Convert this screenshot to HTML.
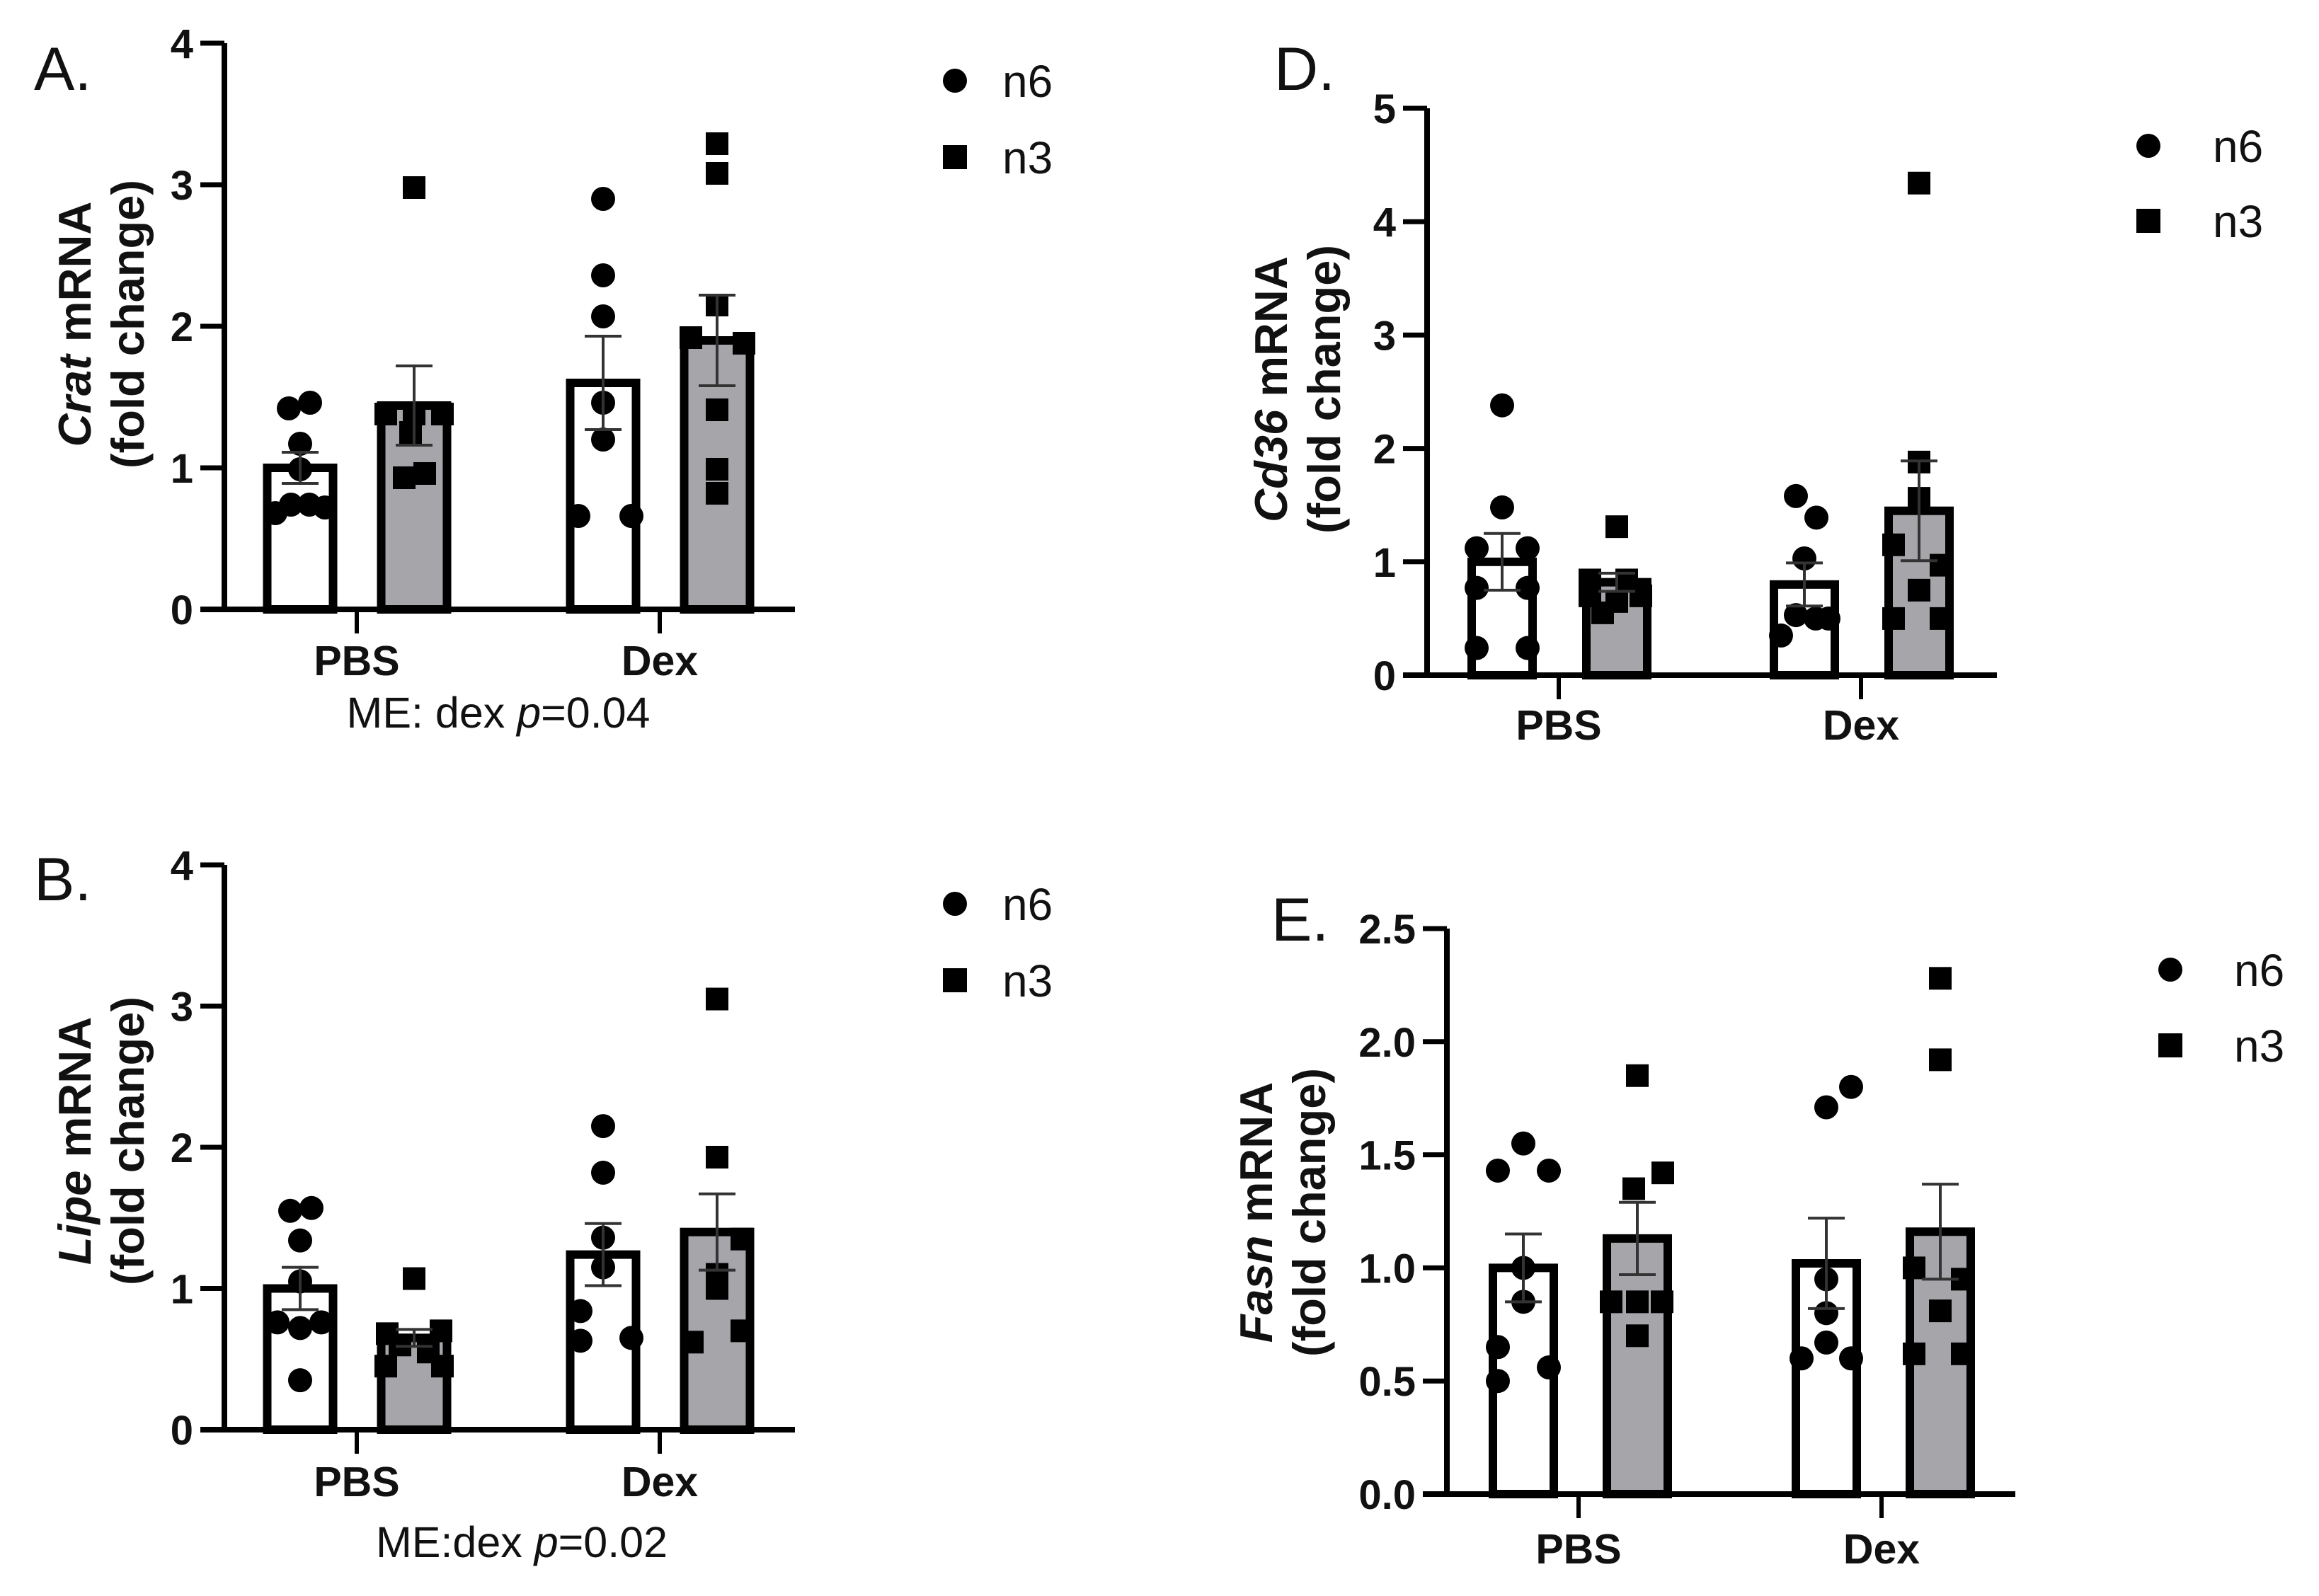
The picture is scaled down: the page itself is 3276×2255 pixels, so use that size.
<!DOCTYPE html>
<html><head><meta charset="utf-8"><style>
html,body{margin:0;padding:0;background:#fff}
svg{display:block}
text{font-family:"Liberation Sans",Arial,sans-serif}
</style></head>
<body>
<svg id="fig" width="3276" height="2255" viewBox="0 0 3276 2255" xmlns="http://www.w3.org/2000/svg"></svg>
<script>
// ---- data ----
const groups = ["PBS", "Dex"];
const series = ["n6", "n3"];
// Panel A: Crat
const crat_means = [1.0, 1.44, 1.6, 1.9];
const crat_sem = [0.11, 0.28, 0.33, 0.32];
const crat_pts_n6_pbs = [1.42, 1.46, 1.17, 0.99, 0.68, 0.74, 0.74, 0.72];
const crat_pts_n3_pbs = [2.98, 1.38, 1.38, 1.38, 1.25, 0.93, 0.96];
const crat_pts_n6_dex = [2.9, 2.36, 2.07, 1.46, 1.2, 0.66, 0.66];
const crat_pts_n3_dex = [3.29, 3.08, 2.15, 1.92, 1.88, 1.41, 0.99, 0.82];
// Panel B: Lipe
const lipe_means = [1.0, 0.65, 1.24, 1.4];
const lipe_sem = [0.15, 0.06, 0.22, 0.27];
const lipe_pts_n6_pbs = [1.55, 1.57, 1.34, 1.05, 0.76, 0.72, 0.76, 0.35];
const lipe_pts_n3_pbs = [1.07, 0.68, 0.7, 0.6, 0.55, 0.45, 0.45];
const lipe_pts_n6_dex = [2.15, 1.82, 1.36, 1.15, 0.84, 0.63, 0.65];
const lipe_pts_n3_dex = [3.05, 1.93, 1.35, 1.1, 1.0, 0.7, 0.62];
// Panel D: Cd36
const cd36_means = [1.0, 0.82, 0.8, 1.45];
const cd36_sem = [0.25, 0.08, 0.19, 0.44];
const cd36_pts_n6_pbs = [2.38, 1.48, 1.12, 1.12, 0.77, 0.77, 0.24, 0.24];
const cd36_pts_n3_pbs = [1.31, 0.84, 0.84, 0.7, 0.7, 0.65, 0.55];
const cd36_pts_n6_dex = [1.58, 1.39, 1.03, 0.53, 0.5, 0.5, 0.35];
const cd36_pts_n3_dex = [4.34, 1.88, 1.56, 1.15, 0.97, 0.75, 0.5, 0.5];
// Panel E: Fasn
const fasn_means = [1.0, 1.13, 1.02, 1.16];
const fasn_sem = [0.15, 0.16, 0.2, 0.21];
const fasn_pts_n6_pbs = [1.55, 1.43, 1.43, 1.0, 0.85, 0.65, 0.56, 0.5];
const fasn_pts_n3_pbs = [1.85, 1.42, 1.35, 0.85, 0.85, 0.85, 0.7];
const fasn_pts_n6_dex = [1.8, 1.71, 0.95, 0.8, 0.67, 0.6, 0.6];
const fasn_pts_n3_dex = [2.28, 1.92, 1.0, 0.95, 0.81, 0.62, 0.62];
const ticks_4 = [0, 1, 2, 3, 4];
const ticks_5 = [0, 1, 2, 3, 4, 5];
const ticks_e = [0, 0.5, 1.0, 1.5, 2.0, 2.5];
const tick_labels_e = ["0.0", "0.5", "1.0", "1.5", "2.0", "2.5"];

// ---- layout (styling only) ----
const jitA = [[-16,14,0,0,-35,-13,13,35],[0,-40,40,0,-5,-14,15],[0,0,0,0,0,-35,40],[0,0,0,-37,38,0,0,0]];
const jitB = [[-14,16,0,0,-32,0,30,0],[0,-38,38,-20,20,-40,40],[0,0,0,0,-32,-32,40],[0,0,35,0,0,35,-35]];
const jitD = [[0,0,-36,36,-36,36,-36,36],[0,-38,14,-38,34,0,-20],[-12,17,0,-12,16,34,-33],[0,0,0,-36,31,0,-36,31]];
const jitE = [[0,-36,36,0,0,-36,36,-36],[0,36,-5,-37,0,35,0],[35,0,0,0,0,-35,35],[0,0,-37,31,0,-37,31]];

const NS = "http://www.w3.org/2000/svg";
const svg = document.getElementById("fig");
function mk(tag, attrs, parent) {
  const e = document.createElementNS(NS, tag);
  for (const k in attrs) e.setAttribute(k, attrs[k]);
  (parent || svg).appendChild(e);
  return e;
}

function panel(cfg) {
  const g = mk("g", {});
  
  
  const yScale = v => cfg.y0 - (v - 0) / cfg.vmax * (cfg.y0 - cfg.yTop);
  const letter = mk("text", {x: cfg.letterX, y: cfg.letterY, "font-size": 86, fill: "#111"}, g);
  letter.textContent = cfg.letter;
  
  
  const yt = mk("text", {transform: `translate(${cfg.ylabX1},${cfg.ylabY}) rotate(-90)`, "text-anchor": "middle", "font-size": 65, "font-weight": "bold", fill: "#111"}, g);
  yt.setAttribute("xml:space", "preserve");
  yt.innerHTML = `<tspan font-style="italic">${cfg.gene}</tspan>${cfg.gap}mRNA`;
  
  
  const yt2 = mk("text", {transform: `translate(${cfg.ylabX2},${cfg.ylabY}) rotate(-90)`, "text-anchor": "middle", "font-size": 65, "font-weight": "bold", fill: "#111"}, g);
  yt2.textContent = "(fold change)";
  
  
  const order = [[0,0],[0,1],[1,0],[1,1]];
  order.forEach((gs, i) => {
    const cx = cfg.groupX[gs[0]] + cfg.offsets[gs[1]];
    const top = yScale(cfg.means[i]);
    const bw = cfg.barW;
    const b = mk("rect", {x: cx - bw/2, y: top, width: bw, height: cfg.y0 - top, fill: gs[1] ? "#a6a5aa" : "#fff", stroke: "#000", "stroke-width": 12}, g);
    
    
  });
  order.forEach((gs, i) => {
    const cx = cfg.groupX[gs[0]] + cfg.offsets[gs[1]];
    cfg.points[i].forEach((v, j) => {
      const px = cx + (cfg.jit[i][j] || 0);
      const py = yScale(v);
      let p;
      if (gs[1] === 0) p = mk("circle", {cx: px, cy: py, r: 17, fill: "#000"}, g);
      else p = mk("rect", {x: px - 16, y: py - 16, width: 32, height: 32, fill: "#000"}, g);
      
      
    });
  });
  order.forEach((gs, i) => {
    const cx = cfg.groupX[gs[0]] + cfg.offsets[gs[1]];
    const hi = yScale(cfg.means[i] + cfg.sem[i]);
    const lo = yScale(cfg.means[i] - cfg.sem[i]);
    const eb = mk("path", {d: `M${cx},${lo}V${hi}M${cx-26},${hi}H${cx+26}M${cx-26},${lo}H${cx+26}`, stroke: "#333", "stroke-width": 4, fill: "none"}, g);
    
    
  });
  const ya = mk("path", {d: `M${cfg.axisX},${yScale(cfg.vmax)}V${cfg.y0}`, stroke: "#000", "stroke-width": 8, fill: "none"}, g);
  
  
  const xa = mk("path", {d: `M${cfg.axisX - 34},${cfg.y0}H${cfg.axisEnd}`, stroke: "#000", "stroke-width": 8, fill: "none"}, g);
  
  
  cfg.ticks.forEach((t, k) => {
    const y = yScale(t);
    const tm = mk("path", {d: `M${cfg.axisX - 34},${y}H${cfg.axisX}`, stroke: "#000", "stroke-width": 7}, g);
    
    
    const tl = mk("text", {x: cfg.axisX - 44, y: y + 21, "text-anchor": "end", "font-size": 58, "font-weight": "bold", fill: "#111"}, g);
    tl.textContent = cfg.tickLabels ? cfg.tickLabels[k] : String(t);
    
    
  });
  groups.forEach((name, k) => {
    const x = cfg.groupX[k];
    const tm = mk("path", {d: `M${x},${cfg.y0}V${cfg.y0 + 34}`, stroke: "#000", "stroke-width": 6}, g);
    
    
    const tl = mk("text", {x: x, y: cfg.xlabY, "text-anchor": "middle", "font-size": 59, "font-weight": "bold", fill: "#111"}, g);
    tl.textContent = name;
    
    
  });
  if (cfg.note) {
    const nt = mk("text", {x: cfg.noteX, y: cfg.noteY, "text-anchor": "middle", "font-size": 61, fill: "#111"}, g);
    nt.innerHTML = cfg.note;
    
    
  }
  const lc = mk("circle", {cx: cfg.legX, cy: cfg.legY1, r: 17, fill: "#000"}, g);
  
  
  const lt1 = mk("text", {x: cfg.legTX, y: cfg.legY1 + 23, "font-size": 64, fill: "#111"}, g);
  lt1.textContent = "n6";
  
  
  const ls = mk("rect", {x: cfg.legX - 17, y: cfg.legY2 - 17, width: 34, height: 34, fill: "#000"}, g);
  
  
  const lt2 = mk("text", {x: cfg.legTX, y: cfg.legY2 + 23, "font-size": 64, fill: "#111"}, g);
  lt2.textContent = "n3";
  
  
}

panel({id:"a", letter:"A.", letterX:48, letterY:127, gene:"Crat", gap:" ", ylabX1:128, ylabX2:203, ylabY:458,
  axisX:317, axisEnd:1123, y0:861, yTop:61, vmax:4, ticks:ticks_4, groupX:[504,932], offsets:[-80,81], barW:93,
  means:crat_means, sem:crat_sem, points:[crat_pts_n6_pbs,crat_pts_n3_pbs,crat_pts_n6_dex,crat_pts_n3_dex], jit:jitA,
  xlabY:954, note:'ME: dex <tspan font-style="italic">p</tspan>=0.04', noteX:704, noteY:1028,
  legX:1349, legY1:114, legY2:222, legTX:1416});
panel({id:"b", letter:"B.", letterX:48, letterY:1272, gene:"Lipe", gap:" ", ylabX1:128, ylabX2:203, ylabY:1612,
  axisX:317, axisEnd:1123, y0:2020, yTop:1222, vmax:4, ticks:ticks_4, groupX:[504,932], offsets:[-80,81], barW:93,
  means:lipe_means, sem:lipe_sem, points:[lipe_pts_n6_pbs,lipe_pts_n3_pbs,lipe_pts_n6_dex,lipe_pts_n3_dex], jit:jitB,
  xlabY:2114, note:'ME:dex <tspan font-style="italic">p</tspan>=0.02', noteX:737, noteY:2200,
  legX:1349, legY1:1277, legY2:1385, legTX:1416});
panel({id:"d", letter:"D.", letterX:1800, letterY:127, gene:"Cd36", gap:"  ", ylabX1:1818, ylabX2:1893, ylabY:550,
  axisX:2016, axisEnd:2821, y0:954, yTop:153, vmax:5, ticks:ticks_5, groupX:[2202,2629], offsets:[-80,82], barW:86,
  means:cd36_means, sem:cd36_sem, points:[cd36_pts_n6_pbs,cd36_pts_n3_pbs,cd36_pts_n6_dex,cd36_pts_n3_dex], jit:jitD,
  xlabY:1045, legX:3035, legY1:206, legY2:312, legTX:3126});
panel({id:"e", letter:"E.", letterX:1796, letterY:1329, gene:"Fasn", gap:"  ", ylabX1:1797, ylabX2:1872, ylabY:1713,
  axisX:2044, axisEnd:2847, y0:2111, yTop:1312, vmax:2.5, ticks:ticks_e, tickLabels:tick_labels_e, groupX:[2230,2658], offsets:[-78,83], barW:86,
  means:fasn_means, sem:fasn_sem, points:[fasn_pts_n6_pbs,fasn_pts_n3_pbs,fasn_pts_n6_dex,fasn_pts_n3_dex], jit:jitE,
  xlabY:2209, legX:3066, legY1:1370, legY2:1477, legTX:3156});
</script>
</body></html>
